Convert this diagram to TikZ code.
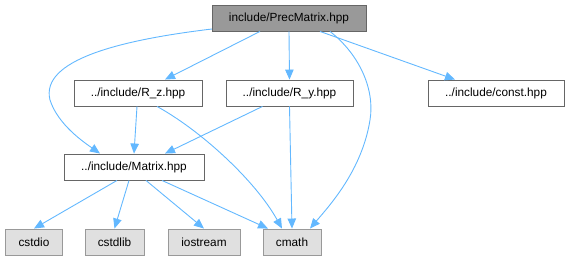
\documentclass[tikz,border=0pt]{standalone}
\usepackage{fontspec}
\setmainfont{Liberation Sans}
\usetikzlibrary{arrows.meta}
\definecolor{edgeblue}{HTML}{63B8FF}
\definecolor{boxline}{HTML}{666666}
\definecolor{sysline}{HTML}{999999}
\definecolor{sysfill}{HTML}{E0E0E0}
\tikzset{%
file/.style={draw=boxline,fill=white,minimum height=26pt,inner xsep=4pt,
             font=\fontsize{11.8}{14}\selectfont,line width=0.9pt},
top/.style={file,fill=sysline},
sys/.style={file,draw=sysline,fill=sysfill},
dep/.style={draw=edgeblue,line width=0.9pt,-{Triangle[length=10pt,width=8.5pt]}},
}

\begin{document}
\begin{tikzpicture}[x=1pt,y=-1pt]
\useasboundingbox (0,0) rectangle (568,261);

\node[top,minimum width=154pt] (prec) at (289,18) {include/PrecMatrix.hpp};

\node[file,minimum width=128pt] (rz) at (138,93) {../include/R\_z.hpp};
\node[file,minimum width=127pt] (ry) at (289.5,93) {../include/R\_y.hpp};
\node[file,minimum width=136pt] (const) at (496,93) {../include/const.hpp};

\node[file,minimum width=140pt] (mat) at (134,167) {../include/Matrix.hpp};

\node[sys,minimum width=57pt] (cstdio) at (34,242) {cstdio};
\node[sys,minimum width=59pt] (cstdlib) at (114.5,242) {cstdlib};
\node[sys,minimum width=72pt] (iostream) at (204,242) {iostream};
\node[sys,minimum width=58pt] (cmath) at (292,242) {cmath};

% includes of PrecMatrix.hpp
\draw[dep] (212,29) .. controls (120,40) and (40,60) .. (50,100)
           .. controls (58,125) and (85,143) .. ([xshift=-34pt]mat.north);
\draw[dep] ([xshift=-29pt]prec.south) -- ([xshift=27pt]rz.north);
\draw[dep] (prec.south) -- (ry.north);
\draw[dep] ([xshift=31pt]prec.south) -- ([xshift=-41pt]const.north);
\draw[dep] ([xshift=41pt]prec.south) .. controls (360,55) and (375,90) .. (370,120)
           .. controls (362,170) and (330,205) .. ([xshift=18pt]cmath.north);

% R_z.hpp and R_y.hpp
\draw[dep] ([xshift=-1pt]rz.south) -- (mat.north);
\draw[dep] ([xshift=19pt]rz.south) .. controls (200,130) and (255,180) .. ([xshift=-10pt]cmath.north);
\draw[dep] ([xshift=-27pt]ry.south) -- ([xshift=31pt]mat.north);
\draw[dep] (ry.south) -- (cmath.north);

% Matrix.hpp
\draw[dep] ([xshift=-17pt]mat.south) -- (cstdio.north);
\draw[dep] ([xshift=-5pt]mat.south) -- (cstdlib.north);
\draw[dep] ([xshift=12pt]mat.south) -- (iostream.north);
\draw[dep] ([xshift=28pt]mat.south) -- ([xshift=-24pt]cmath.north);
\end{tikzpicture}
\end{document}
